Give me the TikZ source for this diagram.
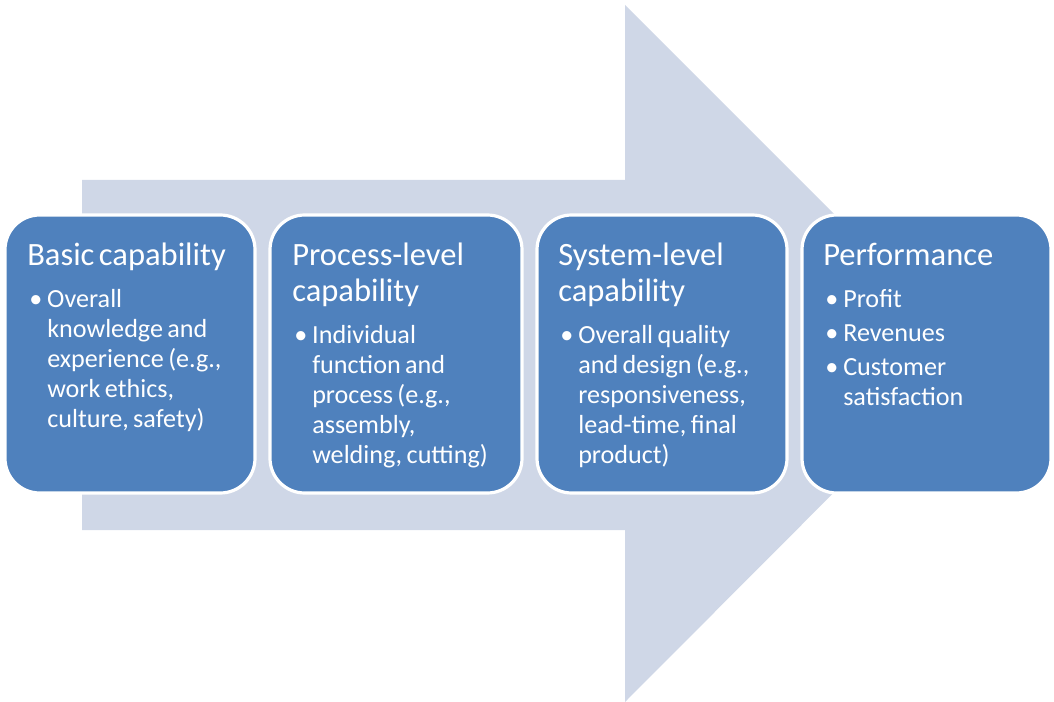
\documentclass[tikz,border=0pt]{standalone}
\usepackage{fontspec}
\setmainfont{Carlito}
\definecolor{arrowcol}{HTML}{CFD7E7}
\definecolor{boxcol}{HTML}{4F81BD}
\newcommand{\ttlf}{\fontsize{24.4}{27}\selectfont}
\newcommand{\bdyf}{\fontsize{19.6}{22.5}\selectfont}
\newcommand{\bitem}[1]{\par\vspace{3pt}\noindent\hspace*{1.5pt}\makebox[13.5pt][l]{\textbullet}#1}
\newcommand{\contline}[1]{\par\noindent\hspace*{15pt}#1}
\tikzset{
  stage/.style={draw=white, line width=2.4pt, fill=boxcol, rounded corners=26pt},
  txt/.style={anchor=north west, inner sep=0pt, text width=180pt, align=left, text=white},
}
\begin{document}
\begin{tikzpicture}[x=0.75pt,y=-0.75pt]
\useasboundingbox (0,0) rectangle (1054,702);
% big arrow
\fill[arrowcol] (82,180) -- (625,180) -- (625,5) -- (973,353) -- (625,702) -- (625,530) -- (82,530) -- cycle;
% boxes
\draw[stage] (5,215) rectangle (255,493);
\draw[stage] (270,215) rectangle (522,493);
\draw[stage] (537,215) rectangle (787,493);
\draw[stage] (802,215) rectangle (1051,493);
% texts
\node[txt] (t1) at (27,243) {\ttlf Basic capability\par\vspace{6pt}\bdyf
  \bitem{Overall}\contline{knowledge and}\contline{experience (e.g.,}\contline{work ethics,}\contline{culture, safety)}\par};
\node[txt] (t2) at (292,243) {\ttlf Process-level\par capability\par\vspace{6pt}\bdyf
  \bitem{Individual}\contline{function and}\contline{process (e.g.,}\contline{assembly,}\contline{welding, cutting)}\par};
\node[txt] (t3) at (558,243) {\ttlf System-level\par capability\par\vspace{6pt}\bdyf
  \bitem{Overall quality}\contline{and design (e.g.,}\contline{responsiveness,}\contline{lead-time, final}\contline{product)}\par};
\node[txt] (t4) at (823,243) {\ttlf Performance\par\vspace{6pt}\bdyf
  \bitem{Profit}\bitem{Revenues}\bitem{Customer}\contline{satisfaction}\par};
\end{tikzpicture}
\end{document}
